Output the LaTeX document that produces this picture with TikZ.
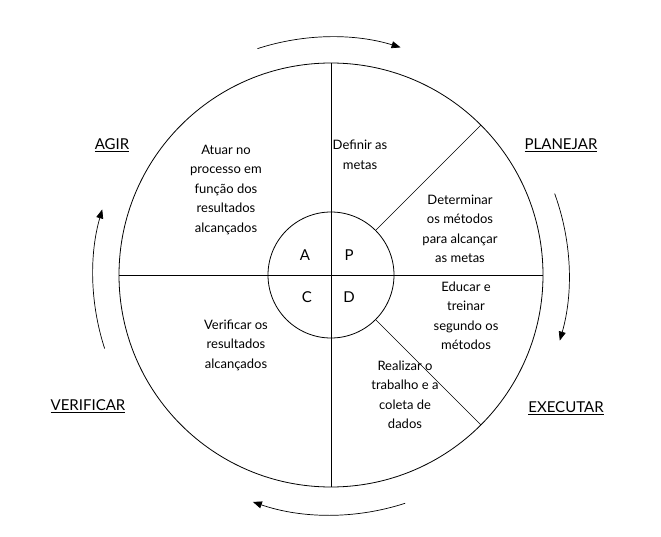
\documentclass[tikz,border=0pt]{standalone}
\usepackage{fontspec}
\setmainfont{Lato}
\usetikzlibrary{arrows.meta,calc}
\begin{document}
\begin{tikzpicture}[x=1pt,y=-1pt,
  txt/.style={align=center,font=\fontsize{13}{19.5}\selectfont},
  lbl/.style={font=\fontsize{15}{17}\selectfont},
  cyc/.style={line width=0.7pt,-{Triangle[length=9pt,width=7pt]}}]
\useasboundingbox (0,0) rectangle (661,537);
\coordinate (O) at (331,275);
\draw[line width=0.8pt] (O) circle (212);
\draw[line width=0.8pt] (O) circle (63);
\draw[line width=0.7pt] (119,275) -- (543,275);
\draw[line width=0.7pt] (331,63) -- (331,487);
\draw[line width=0.6pt] ($(O)+(-45:63)$) -- ($(O)+(-45:212)$);
\draw[line width=0.6pt] ($(O)+(45:63)$) -- ($(O)+(45:212)$);
\node[lbl] (a) at (305,255) {A};
\node[lbl] (p) at (349,255) {P};
\node[lbl] (c) at (307,297) {C};
\node[lbl] (d) at (349,297) {D};
\node[txt] (t1) at (226,190) {Atuar no\\processo em\\função dos\\resultados\\alcançados};
\node[txt] (t2) at (360,155) {Definir as\\metas};
\node[txt] (t3) at (460,229) {Determinar\\os métodos\\para alcançar\\as metas};
\node[txt] (t4) at (466,316) {Educar e\\treinar\\segundo os\\métodos};
\node[txt] (t5) at (405,395) {Realizar o\\trabalho e a\\coleta de\\dados};
\node[txt] (t6) at (236,345) {Verificar os\\resultados\\alcançados};
\node[lbl] (agir) at (112,145) {\underline{AGIR}};
\node[lbl] (plan) at (561,145) {\underline{PLANEJAR}};
\node[lbl] (exec) at (566,408) {\underline{EXECUTAR}};
\node[lbl] (veri) at (88,406) {\underline{VERIFICAR}};
\draw[cyc] ($(O)+(-108:238)$) arc[start angle=-108,end angle=-73,radius=238];
\draw[cyc] ($(O)+(-20:238)$) arc[start angle=-20,end angle=16,radius=238];
\draw[cyc] ($(O)+(72:240)$) arc[start angle=72,end angle=109,radius=240];
\draw[cyc] ($(O)+(162:238)$) arc[start angle=162,end angle=196,radius=238];
\end{tikzpicture}
\end{document}
